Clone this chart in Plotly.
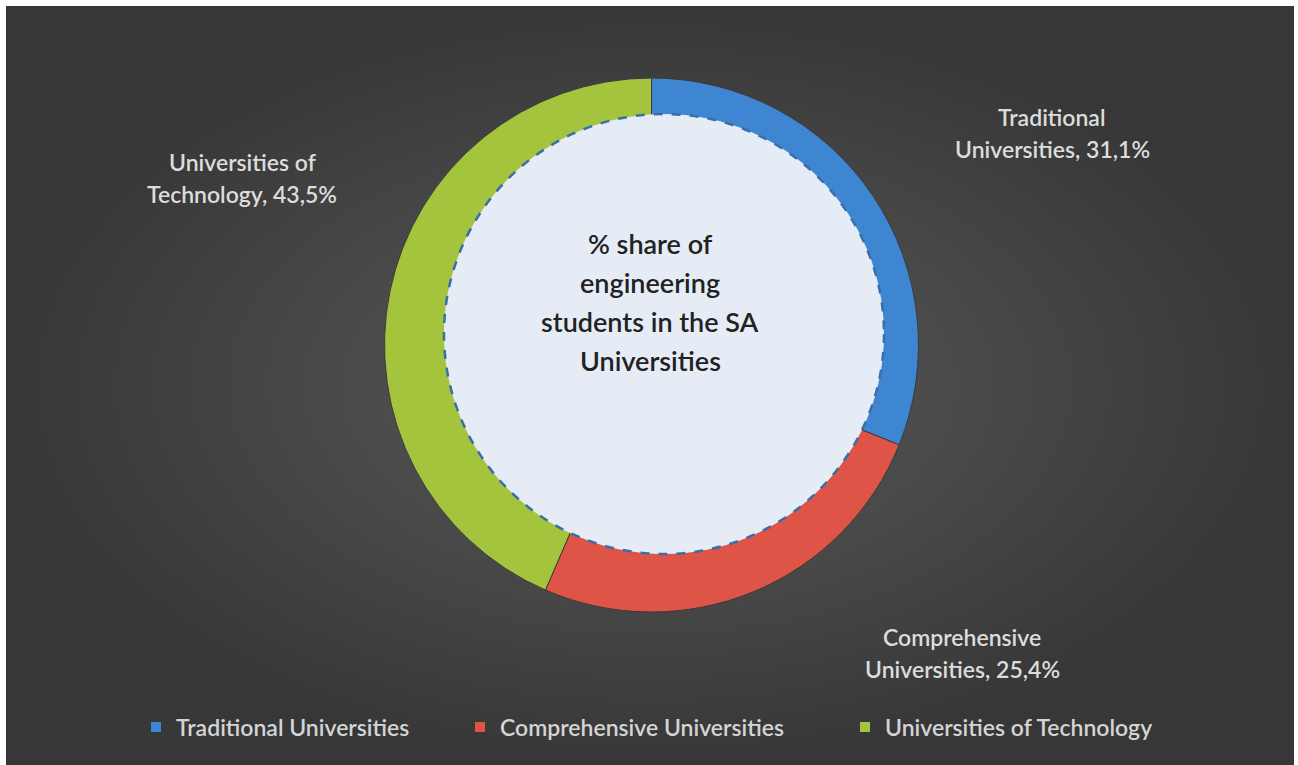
import plotly.graph_objects as go

# Share of engineering students by university type
categories = ["Traditional Universities", "Comprehensive Universities", "Universities of Technology"]
shares = [31.1, 25.4, 43.5]
label_lines = [("Traditional", "Universities"), ("Comprehensive", "Universities"), ("Universities of", "Technology")]
colors = ["#3f86d2", "#de5447", "#a3c43c"]
center_lines = ["% share of", "engineering", "students in the SA", "Universities"]

W, H = 1298, 765
FONT = "Lato, 'Open Sans', sans-serif"

fig = go.Figure()

# dark panel with a radial shade, drawn on a pixel-sized hidden axis
fig.add_trace(go.Scatter(
    x=[6, 1294, 1294, 6, 6], y=[6, 6, 765, 765, 6],
    mode="lines", line=dict(width=0), fill="toself",
    fillgradient=dict(type="radial", colorscale=[[0, "#5b5b5b"], [1, "#373737"]]),
    hoverinfo="skip", showlegend=False,
))

# donut
cx, cy, R = 651.5, 345, 267
fig.add_trace(go.Pie(
    labels=categories, values=shares, marker=dict(colors=colors, line=dict(color="#3a3a3a", width=1)),
    sort=False, direction="clockwise", rotation=0, hole=0.74,
    textinfo="none", hoverinfo="label+percent", showlegend=False,
    domain=dict(x=[(cx - R) / W, (cx + R) / W], y=[1 - (cy + R) / H, 1 - (cy - R) / H]),
))

# legend entries, one legend box per category so each can be placed on its own
legend_ids = ["legend", "legend2", "legend3"]
legend_x = [136, 460, 845]
legend_cfg = {}
for name, col, lid, lx in zip(categories, colors, legend_ids, legend_x):
    fig.add_trace(go.Scatter(
        x=[None], y=[None], mode="markers", name=name,
        marker=dict(symbol="square", size=10, color=col),
        legend=lid, showlegend=True, hoverinfo="skip",
    ))
    legend_cfg[lid] = dict(x=lx / W, xanchor="left", y=1 - 727 / H, yanchor="middle",
                           orientation="h", bgcolor="rgba(0,0,0,0)",
                           font=dict(family=FONT, size=23, color="#d4d4d4", weight=600))

# light inner disc with dashed rim
icx, icy, ir = 664, 334, 220
fig.add_shape(type="circle", xref="x", yref="y",
              x0=icx - ir, x1=icx + ir, y0=icy - ir, y1=icy + ir,
              fillcolor="#e6ecf5", line=dict(color="#3a6ea8", width=2.5, dash="dash"),
              layer="above")

annotations = []
# centre title, one line at a time for tight spacing
for i, t in enumerate(center_lines):
    annotations.append(dict(x=650, y=243 + i * 39, xref="x", yref="y", text=t, showarrow=False,
                            font=dict(family=FONT, size=27, color="#222222", weight=600)))

# outside data labels
label_pos = [(1052, 117), (962, 637), (242, 162)]
for (l1, l2), v, (lx, ly) in zip(label_lines, shares, label_pos):
    val = f"{v:.1f}".replace(".", ",")
    annotations.append(dict(x=lx, y=ly, xref="x", yref="y", text=l1, showarrow=False,
                            font=dict(family=FONT, size=23, color="#dcdcdc", weight=600)))
    annotations.append(dict(x=lx, y=ly + 32, xref="x", yref="y", text=f"{l2}, {val}%", showarrow=False,
                            font=dict(family=FONT, size=23, color="#dcdcdc", weight=600)))

fig.update_layout(
    width=W, height=H, margin=dict(l=0, r=0, t=0, b=0),
    paper_bgcolor="white", plot_bgcolor="rgba(0,0,0,0)",
    xaxis=dict(range=[0, W], visible=False, domain=[0, 1], fixedrange=True),
    yaxis=dict(range=[H, 0], visible=False, domain=[0, 1], fixedrange=True),
    annotations=annotations,
    **legend_cfg,
)

fig.write_html("out.html")
